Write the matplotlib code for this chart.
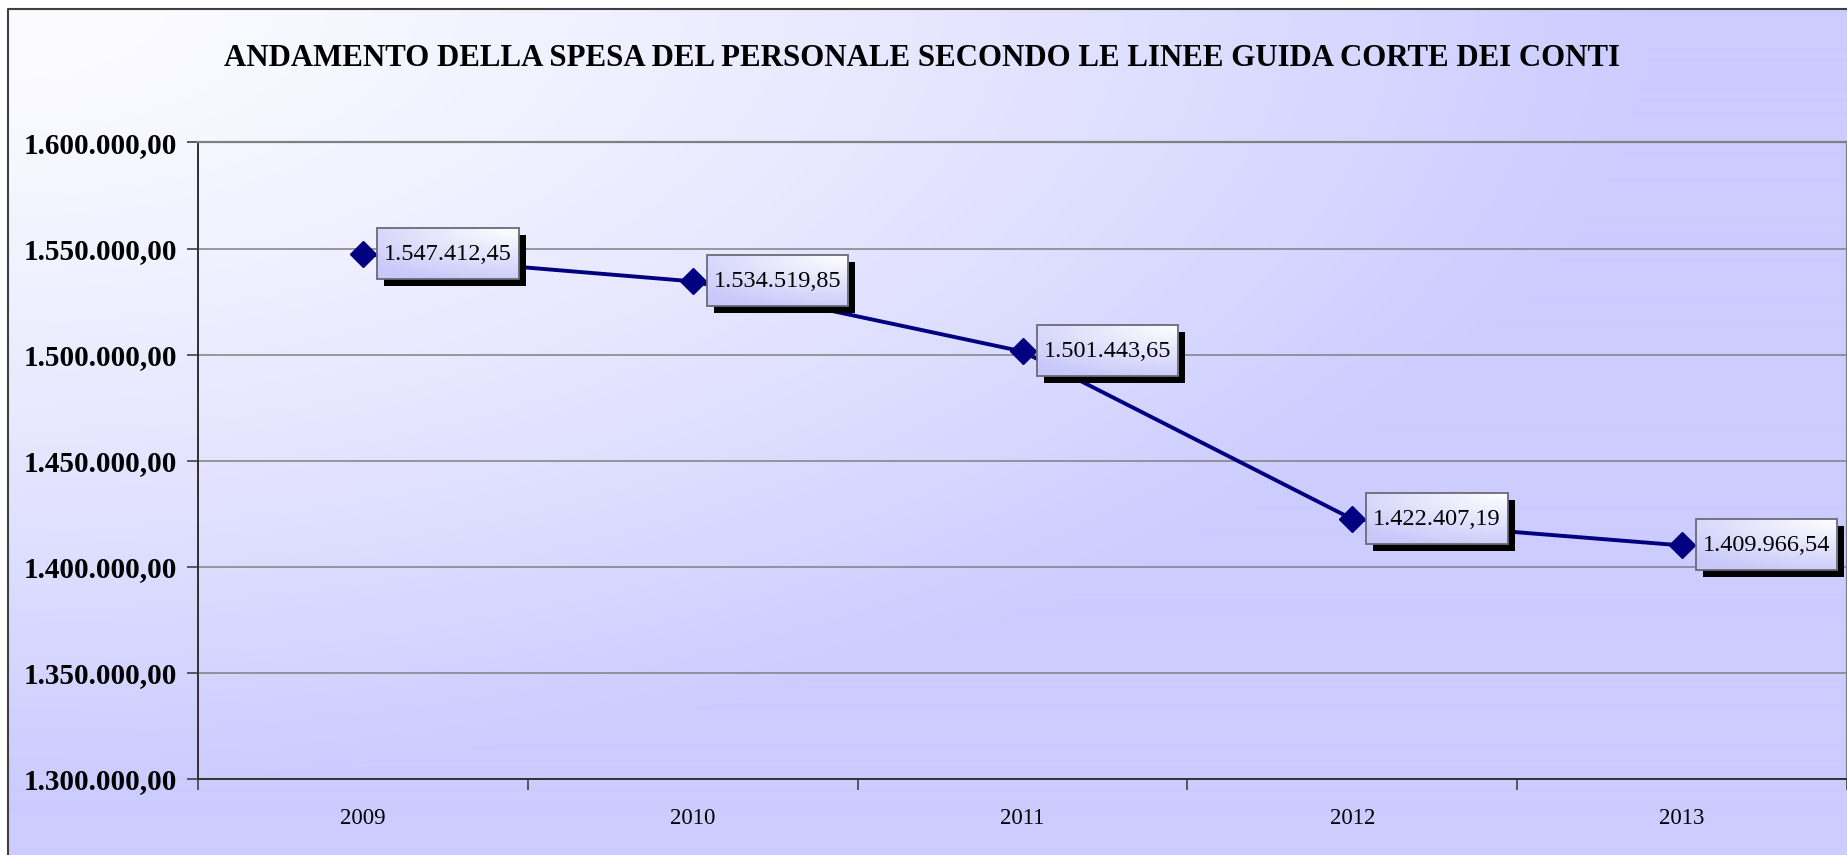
import matplotlib.pyplot as plt
import numpy as np
from matplotlib.patches import Rectangle

years = ["2009", "2010", "2011", "2012", "2013"]
spesa = [1547412.45, 1534519.85, 1501443.65, 1422407.19, 1409966.54]
y_ticks = [1300000, 1350000, 1400000, 1450000, 1500000, 1550000, 1600000]
title = "ANDAMENTO DELLA SPESA DEL PERSONALE SECONDO LE LINEE GUIDA CORTE DEI CONTI"

W, H = 1847, 855
plt.rcParams['font.family'] = ['Liberation Serif', 'DejaVu Serif']


def it_fmt(v):
    # 1547412.45 -> 1.547.412,45
    s = f"{v:,.2f}"
    return s.replace(",", "X").replace(".", ",").replace("X", ".")


fig = plt.figure(figsize=(W / 100, H / 100), dpi=100)

# background gradient (white in top-left corner -> lavender)
bg = fig.add_axes([0, 0, 1, 1], zorder=-2)
xx, yy = np.meshgrid(np.arange(W), np.arange(H))
r = np.clip(np.sqrt((xx / 1650) ** 2 + (yy / 780) ** 2), 0, 1)
t = r ** 1.4
c0 = np.array([252, 252, 255]) / 255
c1 = np.array([204, 204, 255]) / 255
img = c0[None, None, :] * (1 - t[..., None]) + c1[None, None, :] * t[..., None]
# white outside the chart border
img[:9, :, :] = 1
img[:, :8, :] = 1
bg.imshow(img, extent=(0, W, H, 0), aspect='auto')
bg.set_xlim(0, W)
bg.set_ylim(H, 0)
bg.axis('off')
bg.plot([8, 8, W + 5], [H + 5, 9, 9], color='#404040', lw=1.5)

ax = fig.add_axes([198 / W, 1 - 778.6 / H, (W - 198) / W, (778.6 - 142.5) / H])
ax.patch.set_visible(False)

x = np.arange(len(years))
ax.plot(x, spesa, color='#000080', lw=2.8, marker='D', ms=13, zorder=4)

ax.set_xlim(-0.5, len(years) - 0.5)
ax.set_ylim(y_ticks[0], y_ticks[-1])
ax.set_yticks(y_ticks)
ax.set_yticklabels([it_fmt(v) for v in y_ticks], fontsize=21, fontweight='bold')
ax.yaxis.grid(True, color='#808080', lw=1.1)
ax.set_axisbelow(True)
ax.tick_params(axis='y', direction='out', length=8, width=1.2, color='#404040', pad=7)

ax.set_xticks(np.arange(len(years) + 1) - 0.5)
ax.set_xticklabels([])
ax.set_xticks(x, minor=True)
ax.set_xticklabels(years, minor=True, fontsize=16.5)
ax.tick_params(axis='x', which='major', direction='out', length=8, width=1.2, color='#404040')
ax.tick_params(axis='x', which='minor', length=0, pad=21)

for s in ['left', 'bottom']:
    ax.spines[s].set_color('#303030')
    ax.spines[s].set_linewidth(1.4)
for s in ['top', 'right']:
    ax.spines[s].set_color('#808080')
    ax.spines[s].set_linewidth(1.6)

fig.text(0.499, 1 - 59 / H, title, ha='center', va='center', fontsize=22.2, fontweight='bold')

# data labels: bordered box with shadow and gradient fill
labels = []
for xi, v in zip(x, spesa):
    a = ax.annotate(it_fmt(v), (xi, v), xytext=(21, 0), textcoords='offset pixels',
                    ha='left', va='center', fontsize=17.5, zorder=9)
    labels.append(a)

fig.canvas.draw()
rend = fig.canvas.get_renderer()
inv = ax.transData.inverted()
gy, gx = np.mgrid[0:1:40j, 0:1:80j]
# light in the top-right corner, lavender in the bottom-left
g = np.clip(np.sqrt((1 - gx) ** 2 * 0.5 + gy ** 2 * 0.8), 0, 1)
box_img = np.array([255, 255, 255])[None, None, :] / 255 * (1 - g[..., None]) + \
    np.array([200, 200, 250])[None, None, :] / 255 * g[..., None]
pad_x, pad_y, sh = 7, 15, 7
for a in labels:
    ext = a.get_window_extent(rend)
    cy = 0.5 * (ext.y0 + ext.y1)
    half = 0.5 * (ext.y1 - ext.y0) + pad_y
    bx0, bx1 = ext.x0 - pad_x, ext.x1 + pad_x
    by0, by1 = cy - half + 1, cy + half + 1
    (x0, y0), (x1, y1) = inv.transform([(bx0, by0), (bx1, by1)])
    (sx0, sy0), (sx1, sy1) = inv.transform([(bx0 + sh, by0 - sh), (bx1 + sh, by1 - sh)])
    ax.add_patch(Rectangle((sx0, sy0), sx1 - sx0, sy1 - sy0, fc='black', ec='none',
                           zorder=6, clip_on=False))
    ax.imshow(box_img, extent=(x0, x1, y0, y1), aspect='auto', zorder=7, clip_on=False,
              origin='upper')
    ax.add_patch(Rectangle((x0, y0), x1 - x0, y1 - y0, fc='none', ec='#6a6a78', lw=1.3,
                           zorder=8, clip_on=False))

ax.set_xlim(-0.5, len(years) - 0.5)
ax.set_ylim(y_ticks[0], y_ticks[-1])

fig.savefig('out.png', dpi=100)
